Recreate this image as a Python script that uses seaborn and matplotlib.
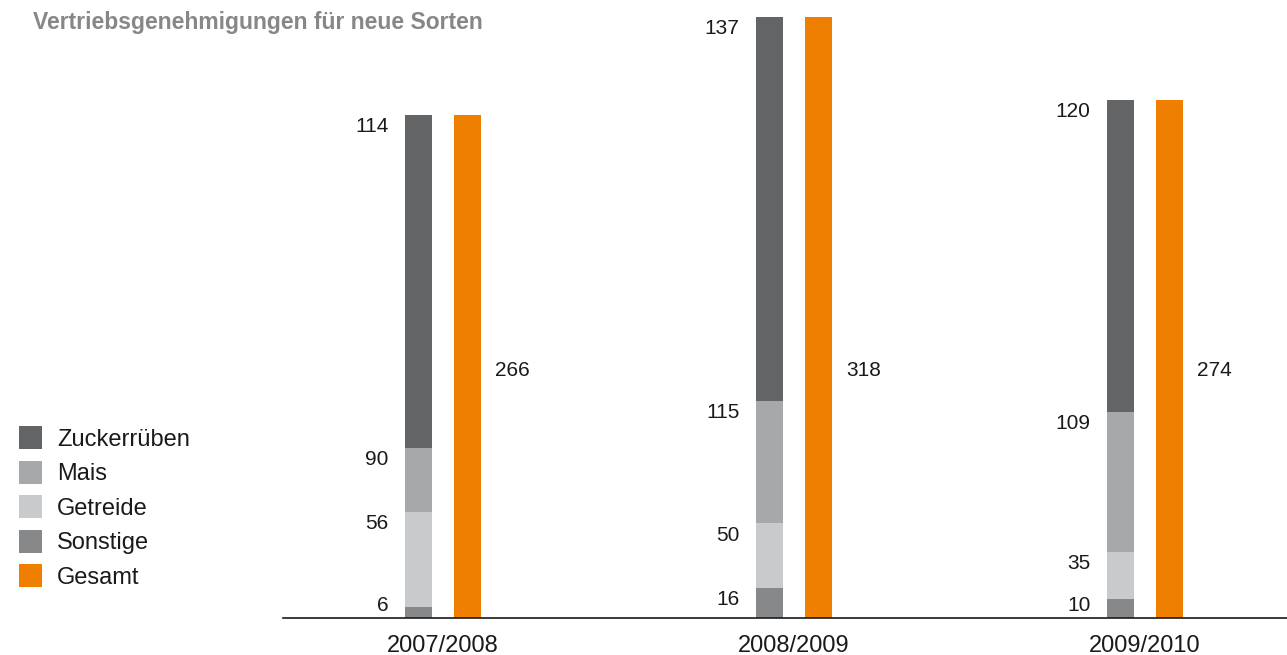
import numpy as np
import pandas as pd
import matplotlib
matplotlib.use("Agg")
import matplotlib.pyplot as plt
from matplotlib.patches import Rectangle
import seaborn as sns

# ---------------- data ----------------
jahre = ["2007/2008", "2008/2009", "2009/2010"]
# drawn segment heights (as they appear in the chart)
sonstige = [6, 16, 10]
getreide = [50, 34, 25]
mais = [34, 65, 74]
zuckerrueben = [176, 203, 165]
gesamt = [266, 318, 274]
# printed value labels
label_sonstige = [6, 16, 10]
label_getreide = [56, 50, 35]
label_mais = [90, 115, 109]
label_zuckerrueben = [114, 137, 120]

serien = ["Zuckerrüben", "Mais", "Getreide", "Sonstige", "Gesamt"]
farben = {
    "Zuckerrüben": "#636466",
    "Mais": "#a7a8aa",
    "Getreide": "#c9cacb",
    "Sonstige": "#87888a",
    "Gesamt": "#ee7f00",
}
titel = "Vertriebsgenehmigungen für neue Sorten"

# ---------------- style ----------------
sns.set_style("white")
plt.rcParams["font.family"] = ["Liberation Sans", "DejaVu Sans"]

W, H = 1287, 655
fig = plt.figure(figsize=(W / 100, H / 100), dpi=100)
ax = fig.add_axes([283 / W, 37 / H, 1004 / W, 618 / H])

s = np.array(sonstige)
g = np.array(getreide)
m = np.array(mais)
z = np.array(zuckerrueben)
cum = {
    "Zuckerrüben": s + g + m + z,
    "Mais": s + g + m,
    "Getreide": s + g,
    "Sonstige": s,
}

width = 0.283
gap = 0.456
hue_order = ["Stapel", "Gesamt"]

for k, name in enumerate(["Zuckerrüben", "Mais", "Getreide", "Sonstige"]):
    rows = [{"Jahr": j, "Serie": "Stapel", "Wert": v} for j, v in zip(jahre, cum[name])]
    if k == 0:
        rows += [{"Jahr": j, "Serie": "Gesamt", "Wert": v} for j, v in zip(jahre, gesamt)]
    df = pd.DataFrame(rows)
    sns.barplot(data=df, x="Jahr", y="Wert", hue="Serie", hue_order=hue_order,
                order=jahre,
                palette={"Stapel": farben[name], "Gesamt": farben["Gesamt"]},
                width=width, gap=gap, dodge=True, errorbar=None,
                legend=False, linewidth=0, saturation=1, ax=ax)

px_per_unit = 1.891
ax.set_ylim(0, 618 / px_per_unit)
ax.set_xlim(-160 / 351, -160 / 351 + 1004 / 351)

# value labels
offset = width / 4
bw = width / 2 * (1 - gap)
tops = [cum["Sonstige"], cum["Getreide"], cum["Mais"], cum["Zuckerrüben"]]
labs = [label_sonstige, label_getreide, label_mais, label_zuckerrueben]
for i in range(len(jahre)):
    xl = i - offset - bw / 2 - 16 / 351
    for t, l in zip(tops, labs):
        y = max(t[i] - 17.3 / px_per_unit, 7.3 / px_per_unit)
        ax.text(xl, y, str(l[i]), ha="right", va="baseline", fontsize=15, color="#1a1a1a")
    xr = i + offset + bw / 2 + 14 / 351
    ax.text(xr, (618 - 376) / px_per_unit, str(gesamt[i]), ha="left", va="baseline",
            fontsize=15, color="#1a1a1a")

# axes styling
for sp in ["top", "right", "left"]:
    ax.spines[sp].set_visible(False)
ax.spines["bottom"].set_color("#1a1a1a")
ax.spines["bottom"].set_linewidth(1.2)
ax.set_yticks([])
ax.set_xlabel("")
ax.set_ylabel("")
ax.tick_params(axis="x", length=0, pad=12.5, labelsize=17, labelcolor="#1a1a1a")

# legend (manual)
for i, name in enumerate(serien):
    yc = 437.5 + i * 34.5
    fig.add_artist(Rectangle((19 / W, 1 - (yc + 11.5) / H), 23 / W, 23 / H,
                             transform=fig.transFigure, facecolor=farben[name],
                             edgecolor="none"))
    fig.text(57 / W, 1 - (yc + 8.5) / H, name, ha="left", va="baseline",
             fontsize=17, color="#1a1a1a")

# title
fig.text(33 / W, 1 - 28.5 / H, titel, ha="left", va="baseline", fontsize=16.5,
         fontweight="bold", color="#878787")

fig.savefig("out.png", dpi=100)
